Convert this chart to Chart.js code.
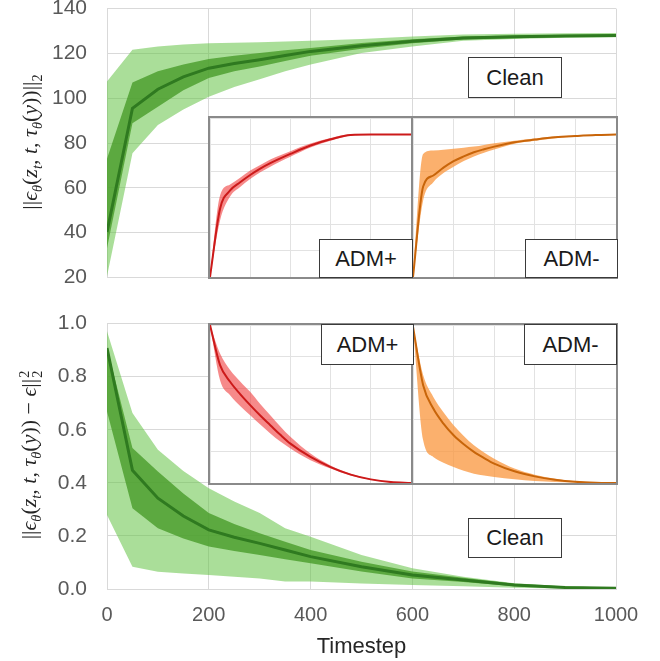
<!DOCTYPE html>
<html>
<head>
<meta charset="utf-8">
<script src="https://cdn.jsdelivr.net/npm/chart.js@4/dist/chart.umd.min.js"></script>
<style>
  body { margin: 0; background: #fff; width: 660px; height: 661px; overflow: hidden; position: relative; font-family: "Liberation Sans", Arial, sans-serif; }
  canvas { position: absolute; display: block; }
  .inset { position: absolute; background: #fff; border: 2px solid #8a8a8a; box-sizing: border-box; }
  .inset canvas { left: 0; top: 0; }
  .tag { position: absolute; background: #fff; border: 1.5px solid #3a3a3a; box-sizing: border-box; display: flex; align-items: center; justify-content: center; font-size: 22px; color: #1a1a1a; }
  .ytitle { position: absolute; transform: translate(-50%, -50%) rotate(-90deg); white-space: nowrap; font-family: "Liberation Serif", serif; font-size: 22px; color: #262626; }
  .ytitle sub, .ytitle sup { font-size: 0.65em; line-height: 0; }
  .ss { display: inline-block; vertical-align: middle; line-height: 0.9; font-size: 0.65em; margin-left: 1px; }
</style>
</head>
<body>

<canvas id="topMain" width="660" height="334" style="left:0;top:-24px"></canvas>
<canvas id="botMain" width="660" height="369" style="left:0;top:291px"></canvas>

<div class="inset" style="left:208px;top:116px;width:205px;height:163px"><canvas id="topPlus" width="201" height="159"></canvas></div>
<div class="inset" style="left:411px;top:116px;width:207px;height:163px"><canvas id="topMinus" width="203" height="159"></canvas></div>
<div class="inset" style="left:208px;top:323px;width:205px;height:162px"><canvas id="botPlus" width="201" height="158"></canvas></div>
<div class="inset" style="left:411px;top:323px;width:207px;height:162px"><canvas id="botMinus" width="203" height="158"></canvas></div>

<div class="tag" style="left:468px;top:57px;width:94px;height:41px">Clean</div>
<div class="tag" style="left:319px;top:239px;width:94px;height:39px">ADM+</div>
<div class="tag" style="left:525px;top:239px;width:93px;height:39px">ADM-</div>
<div class="tag" style="left:321px;top:324px;width:93px;height:41px">ADM+</div>
<div class="tag" style="left:524px;top:324px;width:93px;height:41px">ADM-</div>
<div class="tag" style="left:468px;top:518px;width:94px;height:40px">Clean</div>

<div class="ytitle" style="left:30px;top:142px">||<i>ϵ</i><sub><i>θ</i></sub>(<i>z</i><sub><i>t</i></sub>, <i>t</i>, <i>τ</i><sub><i>θ</i></sub>(<i>y</i>))||<sub>2</sub></div>
<div class="ytitle" style="left:30px;top:455px">||<i>ϵ</i><sub><i>θ</i></sub>(<i>z</i><sub><i>t</i></sub>, <i>t</i>, <i>τ</i><sub><i>θ</i></sub>(<i>y</i>)) − <i>ϵ</i>||<span class="ss">2<br>2</span></div>

<script>
// timesteps shared by every curve
const timesteps = [0, 50, 100, 150, 200, 250, 300, 350, 400, 500, 600, 700, 800, 900, 1000];

// top panel, clean: ||eps||_2
const cleanNormMean    = [40.3, 95.5, 104, 109.5, 113.4, 115.5, 117.2, 119.1, 120.9, 123.4, 125.4, 126.9, 127.4, 127.8, 128];
const cleanNormDarkHi  = [73, 107, 112, 115, 117.5, 119, 120.2, 121.4, 122.4, 124.6, 126.3, 127.6, 128, 128.3, 128.5];
const cleanNormDarkLo  = [33, 88.8, 96.2, 103.5, 109, 112, 114.2, 116.6, 118.9, 122.1, 124.5, 126.2, 126.8, 127.3, 127.5];
const cleanNormLightHi = [107.4, 121.6, 123.1, 124, 124.5, 124.8, 125, 125.3, 125.6, 126.4, 127.6, 128.4, 128.8, 129, 129.1];
const cleanNormLightLo = [20.5, 75.4, 88, 95, 100.7, 105, 108.5, 112, 115, 120.2, 123.1, 125.7, 126.4, 127, 127.2];

// top insets (no tick labels)
const plusNormMean  = [0, 51.5, 65.3, 71.5, 77, 81.8, 85.9, 89.5, 92.9, 99.2, 103.9, 107.2, 107.5, 107.5, 107.5];
const plusNormHi    = [0, 61.5, 69.8, 75, 80.3, 84.5, 88.6, 91.8, 95, 100.7, 105, 107.8, 107.9, 107.9, 107.9];
const plusNormLo    = [0, 42.7, 60.8, 68, 74, 79, 83.3, 87.2, 90.8, 97.7, 102.8, 106.6, 107.1, 107.1, 107.1];
const minusNormMean = [0, 68.3, 76.6, 82.5, 87.4, 91, 94.1, 96.4, 98.4, 101.7, 103.7, 105.4, 106.4, 107.2, 107.5];
const minusNormHi   = [0, 92.9, 95.4, 96.1, 96.7, 97.6, 98.4, 99.7, 100.9, 102.8, 104.5, 106, 106.8, 107.5, 107.8];
const minusNormLo   = [0, 57.7, 71.5, 78.5, 83.3, 87.5, 90.9, 93.7, 96.2, 100.6, 102.9, 104.8, 106, 106.9, 107.2];

// bottom panel, clean: ||eps - eps_true||^2
const cleanErrMean    = [0.908, 0.447, 0.342, 0.275, 0.223, 0.195, 0.172, 0.147, 0.122, 0.084, 0.053, 0.034, 0.015, 0.006, 0.003];
const cleanErrDarkHi  = [0.91, 0.531, 0.443, 0.36, 0.286, 0.245, 0.21, 0.178, 0.147, 0.103, 0.066, 0.042, 0.02, 0.009, 0.004];
const cleanErrDarkLo  = [0.669, 0.304, 0.229, 0.19, 0.16, 0.143, 0.128, 0.112, 0.097, 0.066, 0.04, 0.026, 0.01, 0.004, 0.002];
const cleanErrLightHi = [0.971, 0.663, 0.525, 0.445, 0.38, 0.33, 0.286, 0.229, 0.197, 0.128, 0.078, 0.046, 0.022, 0.01, 0.005];
const cleanErrLightLo = [0.279, 0.084, 0.065, 0.058, 0.053, 0.046, 0.04, 0.028, 0.028, 0.021, 0.015, 0.01, 0.005, 0.002, 0.001];

// bottom insets
const plusErrMean  = [1.0, 0.746, 0.641, 0.563, 0.493, 0.427, 0.366, 0.305, 0.249, 0.165, 0.101, 0.053, 0.023, 0.006, 0];
const plusErrHi    = [1.0, 0.82, 0.715, 0.643, 0.577, 0.5, 0.429, 0.358, 0.292, 0.186, 0.111, 0.058, 0.025, 0.007, 0.001];
const plusErrLo    = [1.0, 0.651, 0.556, 0.488, 0.429, 0.37, 0.313, 0.262, 0.218, 0.144, 0.091, 0.048, 0.021, 0.005, 0];
const minusErrMean = [0.99, 0.619, 0.471, 0.376, 0.302, 0.245, 0.197, 0.158, 0.123, 0.074, 0.042, 0.021, 0.008, 0.002, 0];
const minusErrHi   = [0.99, 0.683, 0.545, 0.448, 0.366, 0.298, 0.239, 0.193, 0.154, 0.091, 0.052, 0.027, 0.011, 0.003, 0.001];
const minusErrLo   = [0.99, 0.27, 0.165, 0.128, 0.101, 0.078, 0.059, 0.047, 0.038, 0.023, 0.013, 0.007, 0.003, 0.001, 0];

const normTicks = [20, 40, 60, 80, 100, 120, 140];
const errTicks = [0, 0.2, 0.4, 0.6, 0.8, 1.0];
const xTicks = [0, 200, 400, 600, 800, 1000];

const GRID = "#d9d9d9";
const TICK_COLOR = "#595959";

function pts(values) {
  return values.map((v, i) => ({ x: timesteps[i], y: v }));
}

// upper edge fills down to the lower edge (next dataset)
function band(hi, lo, color, order) {
  return [
    { data: pts(hi), fill: "+1", backgroundColor: color, borderColor: "transparent", borderWidth: 0, order: order },
    { data: pts(lo), fill: false, borderColor: "transparent", borderWidth: 0, order: order },
  ];
}

function meanLine(values, color, width) {
  return { data: pts(values), fill: false, borderColor: color, borderWidth: width, order: 0 };
}

function baseOptions(padding, scales, tension) {
  return {
    responsive: false,
    animation: false,
    events: [],
    layout: { padding: padding },
    plugins: { legend: { display: false }, tooltip: { enabled: false } },
    elements: { point: { radius: 0 }, line: { tension: tension, cubicInterpolationMode: tension ? "monotone" : "default" } },
    scales: scales,
  };
}

// y tick padding (20) is also added above/below the plot by Chart.js,
// so the canvases are shifted to put the plot areas in place
function mainChart(id, datasets, yMin, yMax, showX, yTicks, fmt) {
  new Chart(document.getElementById(id), {
    type: "line",
    data: { datasets: datasets },
    options: baseOptions(
      { left: 0, right: 44, top: 0, bottom: 0 },
      {
        x: {
          type: "linear", min: 0, max: 1000,
          afterBuildTicks: (s) => { s.ticks = xTicks.map((v) => ({ value: v })); },
          ticks: { display: showX, color: TICK_COLOR, font: { size: 20 }, padding: 14, callback: (v) => String(v) },
          grid: { color: GRID, drawTicks: false },
          border: { color: GRID },
          title: { display: showX, text: "Timestep", color: "#262626", font: { size: 22 }, padding: { top: 6, bottom: 0 } },
          afterFit: (s) => { s.height = showX ? 71 : 0; },
        },
        y: {
          type: "linear", min: yMin, max: yMax,
          afterBuildTicks: (s) => { s.ticks = yTicks.map((v) => ({ value: v })); },
          ticks: { color: TICK_COLOR, font: { size: 21 }, padding: 20, callback: fmt },
          grid: { color: GRID, drawTicks: false },
          border: { color: GRID },
          afterFit: (s) => { s.width = 107; },
        },
      },
      0
    ),
  });
}

function insetChart(id, datasets, yMax, yStep) {
  new Chart(document.getElementById(id), {
    type: "line",
    data: { datasets: datasets },
    options: baseOptions(0, {
      x: {
        type: "linear", min: 0, max: 1000,
        ticks: { display: false, stepSize: 200 },
        grid: { color: "#e2e2e2", drawTicks: false },
        border: { display: false },
        afterFit: (s) => { s.height = 0; },
      },
      y: {
        type: "linear", min: 0, max: yMax,
        ticks: { display: false, stepSize: yStep },
        grid: { color: "#e2e2e2", drawTicks: false },
        border: { display: false },
        afterFit: (s) => { s.width = 0; },
      },
    }, 0.3),
  });
}

const LIGHT_GREEN = "rgba(100, 195, 70, 0.55)";
const DARK_GREEN = "rgba(70, 155, 40, 0.78)";
const LINE_GREEN = "#2f7a20";

mainChart("topMain", [
  meanLine(cleanNormMean, LINE_GREEN, 3),
  ...band(cleanNormDarkHi, cleanNormDarkLo, DARK_GREEN, 1),
  ...band(cleanNormLightHi, cleanNormLightLo, LIGHT_GREEN, 2),
], 20, 140, false, normTicks, (v) => String(v));

mainChart("botMain", [
  meanLine(cleanErrMean, LINE_GREEN, 3),
  ...band(cleanErrDarkHi, cleanErrDarkLo, DARK_GREEN, 1),
  ...band(cleanErrLightHi, cleanErrLightLo, LIGHT_GREEN, 2),
], 0, 1, true, errTicks, (v) => v.toFixed(1));

const RED_BAND = "rgba(240, 60, 60, 0.6)";
const RED_LINE = "#cc1a1a";
const ORANGE_BAND = "rgba(250, 150, 60, 0.75)";
const ORANGE_LINE = "#c8650a";

insetChart("topPlus", [meanLine(plusNormMean, RED_LINE, 2), ...band(plusNormHi, plusNormLo, RED_BAND, 1)], 120, 20);
insetChart("topMinus", [meanLine(minusNormMean, ORANGE_LINE, 2), ...band(minusNormHi, minusNormLo, ORANGE_BAND, 1)], 120, 20);
insetChart("botPlus", [meanLine(plusErrMean, RED_LINE, 2), ...band(plusErrHi, plusErrLo, RED_BAND, 1)], 1, 0.2);
insetChart("botMinus", [meanLine(minusErrMean, ORANGE_LINE, 2), ...band(minusErrHi, minusErrLo, ORANGE_BAND, 1)], 1, 0.2);
</script>
</body>
</html>
